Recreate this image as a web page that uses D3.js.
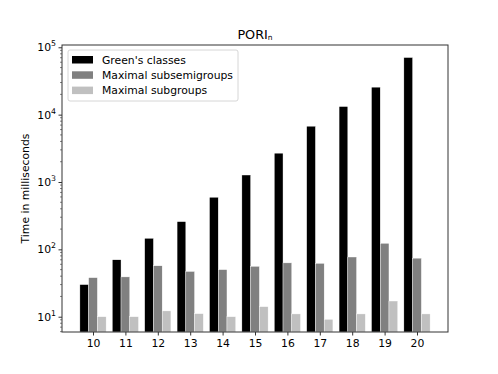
<!DOCTYPE html>
<html><head><meta charset="utf-8">
<script src="https://cdn.jsdelivr.net/npm/d3@7"></script>
<style>body{margin:0;background:#fff}svg{font-family:"DejaVu Sans",sans-serif}</style>
</head><body><svg id="c" width="498" height="374"></svg>
<script>
const categories = [10,11,12,13,14,15,16,17,18,19,20];
const greens = [30,70,146,258,594,1270,2680,6740,13200,25600,70500];
const subsemigroups = [38,39,57,47,50,56,63,62,77,123,74];
const subgroups = [10,10,12.2,11.1,10,14.1,11,9.15,11,17.1,11];
const seriesNames = ["Green's classes","Maximal subsemigroups","Maximal subgroups"];
const seriesColors = ["#000000","#808080","#c0c0c0"];
const yTickExps = [1,2,3,4,5];

const svg = d3.select("#c");
const L=62,R=448,T=45,B=332;
const FS=10.8;
const x = d3.scaleLinear().domain([9.043,20.957]).range([L,R]);
const y = d3.scaleLog().domain([Math.pow(10,0.773),Math.pow(10,5.034)]).range([B,T]);
const bw = 0.27;
const series = [greens, subsemigroups, subgroups];
series.forEach((vals,si)=>{
  svg.append("g").selectAll("rect").data(categories).join("rect")
    .attr("x",(c)=>x(c+(si-1.5)*bw))
    .attr("width",x(bw)-x(0))
    .attr("y",(c,i)=>y(vals[i]))
    .attr("height",(c,i)=>B-y(vals[i]))
    .attr("fill",seriesColors[si])
    .attr("stroke","#fff").attr("stroke-width",0.4);
});
// frame
svg.append("rect").attr("x",L).attr("y",T).attr("width",R-L).attr("height",B-T)
  .attr("fill","none").attr("stroke","#333").attr("stroke-width",1);
// x axis
const xa = svg.append("g").attr("transform",`translate(0,${B})`)
  .call(d3.axisBottom(x).tickValues(categories).tickFormat(d3.format("d")).tickSizeOuter(0).tickSize(3.5).tickPadding(3.5));
xa.select(".domain").remove();
xa.selectAll("text").attr("font-size",FS).attr("fill","#000").attr("font-family","DejaVu Sans");
xa.selectAll("line").attr("stroke","#333");
// y axis minor ticks
const minor=[];
for(let e=0;e<=5;e++){for(let m=2;m<=9;m++){const v=m*Math.pow(10,e); if(v>=y.domain()[0]&&v<=y.domain()[1]) minor.push(v);}}
svg.append("g").selectAll("line").data(minor).join("line")
  .attr("x1",L-2).attr("x2",L).attr("y1",d=>y(d)).attr("y2",d=>y(d)).attr("stroke","#333").attr("stroke-width",0.6);
const ya = svg.append("g").attr("transform",`translate(${L},0)`)
  .call(d3.axisLeft(y).tickValues(yTickExps.map(e=>Math.pow(10,e))).tickFormat("").tickSizeOuter(0).tickSize(3.5));
ya.select(".domain").remove();
ya.selectAll("line").attr("stroke","#333");
yTickExps.forEach(e=>{
  const t = svg.append("text").attr("x",L-6).attr("y",y(Math.pow(10,e))+4).attr("text-anchor","end").attr("font-size",FS).attr("fill","#000");
  t.append("tspan").text("10");
  t.append("tspan").attr("font-size",7.8).attr("dy",-5).text(e);
});
// y label
svg.append("text").attr("transform",`translate(29,${(T+B)/2}) rotate(-90)`).attr("text-anchor","middle")
  .attr("font-size",FS).attr("fill","#000").text("Time in milliseconds");
// title
const tt = svg.append("text").attr("x",(L+R)/2).attr("y",39).attr("text-anchor","middle").attr("font-size",12.8).attr("fill","#000");
tt.append("tspan").text("PORI");
tt.append("tspan").attr("font-size",7.5).attr("dy",0.5).text("n");
// legend
const lg = svg.append("g");
lg.append("rect").attr("x",68).attr("y",50).attr("width",170).attr("height",51).attr("rx",2)
  .attr("fill","#fff").attr("fill-opacity",0.8).attr("stroke","#ccc").attr("stroke-width",0.8);
seriesNames.forEach((n,i)=>{
  lg.append("rect").attr("x",72).attr("y",56+i*15.3).attr("width",21).attr("height",7.5).attr("fill",seriesColors[i]);
  lg.append("text").attr("x",102).attr("y",63.5+i*15.3).attr("font-size",FS).attr("fill","#000").text(n);
});
</script></body></html>
